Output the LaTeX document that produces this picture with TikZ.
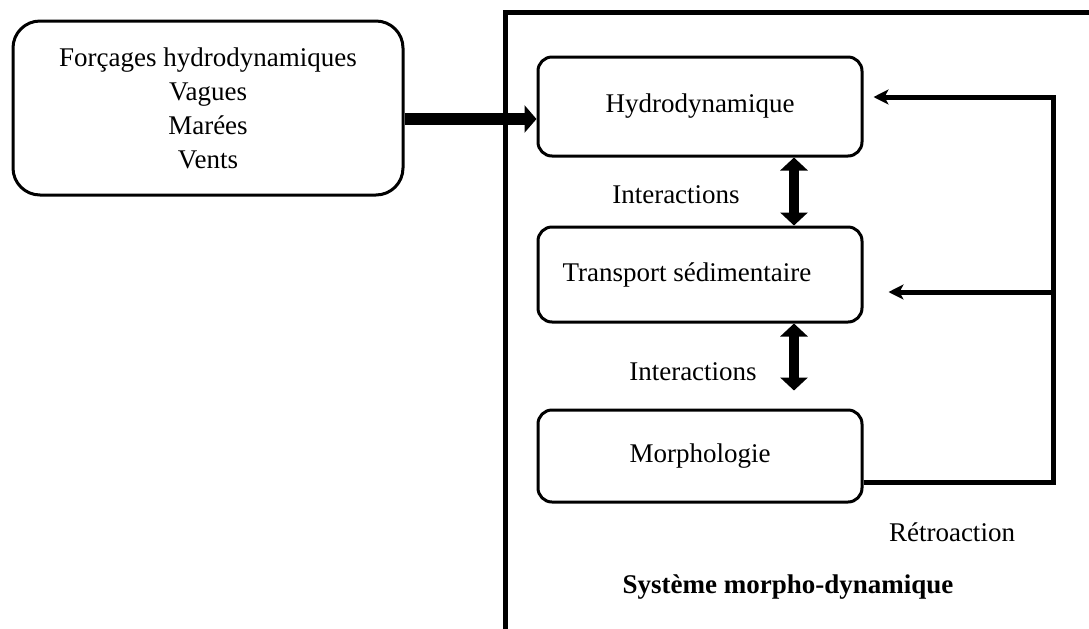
\documentclass[tikz,border=0pt]{standalone}
\usepackage{fontspec}
\setmainfont{Liberation Serif}
\usetikzlibrary{arrows.meta}

\begin{document}
\begin{tikzpicture}[x=0.5pt,y=-0.5pt,
		every node/.style={font=\fontsize{13.5pt}{17pt}\selectfont},
		boite/.style={draw, line width=1.5pt, rounded corners=7pt, minimum width=162pt, inner sep=0pt},
		cadre/.style={black, line width=2.5pt},
		entree/.style={line width=6pt, -{Triangle[length=6pt,width=13.5pt]}},
		echange/.style={line width=5pt, {Triangle[length=6.5pt,width=13.5pt]}-{Triangle[length=6.5pt,width=13.5pt]}},
		retro/.style={line width=2.5pt, -{Stealth[length=7.5pt,width=7.5pt,inset=2pt]}},
		]
		\useasboundingbox (0,0) rectangle (1089,628);
		
		% ── Forçages extérieurs ──
		\node[boite, rounded corners=13.5pt, minimum width=195pt, minimum height=87pt, align=center]
		(forcages) at (208,108) {Forçages hydrodynamiques\\Vagues\\Marées\\Vents};
		
		% ── Cadre du système (ouvert à droite et en bas) ──
		\draw[cadre] (1095,12) -- (505,12) -- (505,635);
		
		% ── Boîtes du système ──
		\node[boite, minimum height=49.5pt] (hydro)     at (700,106.5) {Hydrodynamique};
		\node[boite, minimum height=47.5pt] (transport) at (700,274.5) {Transport sédimentaire\kern13pt};
		\node[boite, minimum height=46pt]   (morpho)    at (700,456)   {Morphologie};
		
		% ── Entrée des forçages ──
		\draw[entree] ([yshift=-5.5pt]forcages.east) -- ([yshift=-5.5pt]forcages.east -| hydro.west);
		
		% ── Interactions ──
		\draw[echange] ([xshift=47pt]hydro.south) -- ([xshift=47pt]transport.north);
		\draw[echange, shorten >=9pt] ([xshift=47pt]transport.south) -- ([xshift=47pt]morpho.north);
		\node (inter1) at (676,195) {Interactions};
		\node (inter2) at (693,372) {Interactions};
		
		% ── Rétroaction ──
		\coordinate (retroHaut)   at (1053,97);
		\coordinate (retroMilieu) at (1053,292);
		\coordinate (retroBas)    at (1053,482);
		\draw[retro, shorten >=5pt] (retroBas -| morpho.east) -- (retroBas) -- (retroHaut) -- (retroHaut -| hydro.east);
		\draw[retro, shorten >=12.5pt] (retroMilieu) -- (retroMilieu -| transport.east);
		\node (retroTexte) at (952,532) {Rétroaction};
		
		\node[font=\fontsize{13.5pt}{17pt}\selectfont\bfseries] (systeme) at (788,587) {Système morpho-dynamique};
		
	\end{tikzpicture}
\end{document}
